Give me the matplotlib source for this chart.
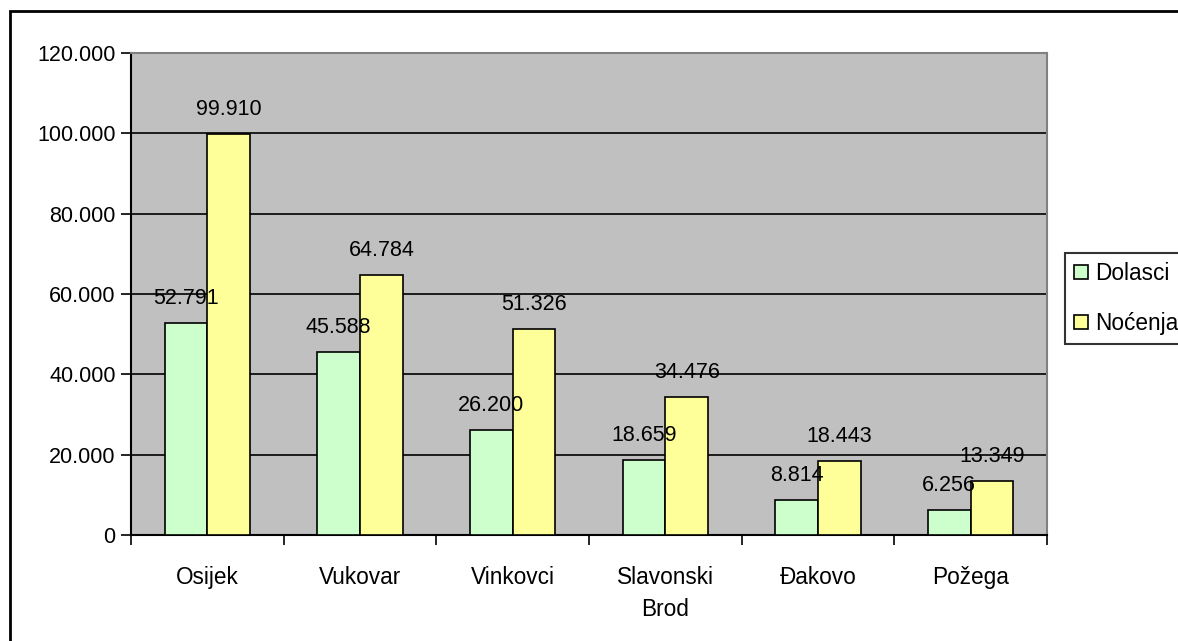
import matplotlib
matplotlib.use('Agg')
import matplotlib.pyplot as plt
import numpy as np
from matplotlib.patches import Rectangle
from matplotlib.ticker import FuncFormatter

# data
cities = ['Osijek', 'Vukovar', 'Vinkovci', 'Slavonski\nBrod', 'Đakovo', 'Požega']
dolasci = [52791, 45588, 26200, 18659, 8814, 6256]
nocenja = [99910, 64784, 51326, 34476, 18443, 13349]
series_names = ['Dolasci', 'Noćenja']

plt.rcParams['font.family'] = ['Liberation Sans', 'DejaVu Sans']
fs = 15.5
fs_cat = 16.3


def dotted(v, pos=None):
    # thousands separator as dot, like the original
    return f'{int(round(v)):,}'.replace(',', '.')


W, H = 1178, 641
fig = plt.figure(figsize=(W / 100, H / 100), dpi=100)
ax = fig.add_axes([131 / W, 1 - 535 / H, (1047 - 131) / W, (535 - 53) / H])

x = np.arange(len(cities))
bw = 0.28
b1 = ax.bar(x - bw / 2, dolasci, bw, color='#CCFFCC', edgecolor='black', linewidth=1.2, zorder=3)
b2 = ax.bar(x + bw / 2, nocenja, bw, color='#FFFF99', edgecolor='black', linewidth=1.2, zorder=3)

for bars, vals in [(b1, dolasci), (b2, nocenja)]:
    for r, v in zip(bars, vals):
        ax.annotate(dotted(v), (r.get_x() + r.get_width() / 2, v), xytext=(0, 10),
                    textcoords='offset points', ha='center', va='bottom',
                    fontsize=fs, zorder=5)

ax.set_facecolor('#C0C0C0')
ax.set_xlim(-0.5, len(cities) - 0.5)
ax.set_ylim(0, 120000)
ax.set_yticks(np.arange(0, 120001, 20000))
ax.yaxis.set_major_formatter(FuncFormatter(dotted))
ax.grid(axis='y', color='black', linewidth=1.2, zorder=1)

ax.set_xticks(x)
ax.set_xticklabels(cities, fontsize=fs_cat, linespacing=1.5, va='top')
ax.set_xticks(np.arange(-0.5, len(cities)), minor=True)
ax.tick_params(axis='x', which='major', length=0, pad=22)
ax.tick_params(axis='x', which='minor', length=7, width=1.2, direction='out')
ax.tick_params(axis='y', length=7, width=1.2, direction='out', labelsize=fs, pad=4)

for s in ['left', 'bottom']:
    ax.spines[s].set_color('black')
    ax.spines[s].set_linewidth(1.5)
for s in ['top', 'right']:
    ax.spines[s].set_color('#808080')
    ax.spines[s].set_linewidth(1.5)

leg = fig.legend([b1, b2], series_names, loc='upper left',
                 bbox_to_anchor=(1065 / W, 1 - 253 / H), fontsize=fs_cat,
                 frameon=True, fancybox=False, handlelength=0.6, handleheight=0.6,
                 handletextpad=0.35, borderpad=0.4, labelspacing=1.2, borderaxespad=0)
leg.get_frame().set_edgecolor('black')
leg.get_frame().set_linewidth(1.5)

# outer chart border (clipped on the right and bottom)
fig.patches.append(Rectangle((10 / W, -0.05), 1.1, 1 - 11 / H + 0.05, transform=fig.transFigure,
                             fill=False, edgecolor='black', linewidth=2, zorder=10))

fig.savefig('out.png', dpi=100)
